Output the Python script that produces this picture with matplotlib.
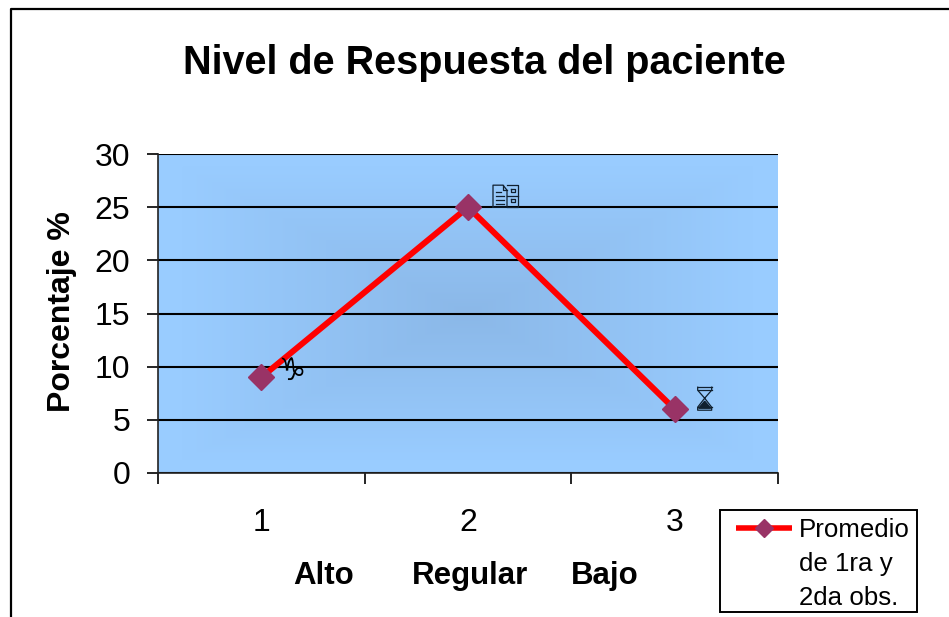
import numpy as np
import matplotlib
matplotlib.use('Agg')
import matplotlib.pyplot as plt
from matplotlib.lines import Line2D
from matplotlib.patches import Rectangle, Polygon

plt.rcParams['font.family'] = ['Liberation Sans', 'DejaVu Sans']

W, H = 949, 617

# data
x_pos = [1, 2, 3]
promedio = [9, 25, 6]
y_ticks = [0, 5, 10, 15, 20, 25, 30]
series_label = ['Promedio', 'de 1ra y', '2da obs.']
categories = ['Alto', 'Regular', 'Bajo']
category_px = [324, 470, 605]


def fx(px):
    return px / W


def fy(py):
    return 1 - py / H


# small line symbol in pixels, placed relative to a data point
def draw_icon(point, segments):
    px0, py0 = ax.transData.transform(point)
    for seg in segments:
        xs = [(px0 + p[0]) / W for p in seg]
        ys = [(py0 + p[1]) / H for p in seg]
        fig.add_artist(Line2D(xs, ys, color='#10202f', lw=0.9, zorder=5))


fig = plt.figure(figsize=(W / 100, H / 100), dpi=100, facecolor='white')

# outer chart frame, only left and top show
fig.add_artist(Line2D([fx(10.5), fx(10.5), 1], [0, fy(8.5), fy(8.5)], color='black', lw=1.6))

ax = fig.add_axes([fx(158), fy(473), fx(778 - 158), (473 - 154) / H])

# rectangular gradient background, darker in the middle
u = np.linspace(-1, 1, 620)
v = np.linspace(-1, 1, 319)
uu, vv = np.meshgrid(u, v)
t = np.clip(1 - np.maximum(np.abs(uu), np.abs(vv)) / 0.92, 0, 1)
edge = np.array([0x99, 0xCC, 0xFF]) / 255
mid = np.array([0x8B, 0xB8, 0xE8]) / 255
img = edge + (mid - edge) * t[..., None]
ax.imshow(img, extent=[0.5, 3.5, 0, 30], aspect='auto', zorder=0, interpolation='bilinear')

ax.set_xlim(0.5, 3.5)
ax.set_ylim(0, 30)
ax.set_yticks(y_ticks)
ax.set_xticks([0.5, 1.5, 2.5, 3.5])
ax.set_xticklabels([])
ax.tick_params(axis='y', length=8, width=1.2, labelsize=23, pad=12)
ax.tick_params(axis='x', length=8, width=1.2)
ax.yaxis.grid(True, color='black', lw=1.5, zorder=1)
ax.set_axisbelow(True)
for side in ['top', 'right']:
    ax.spines[side].set_visible(False)
ax.spines['left'].set_color('#222222')
ax.spines['bottom'].set_color('#222222')
ax.spines['left'].set_linewidth(1.2)
ax.spines['bottom'].set_linewidth(1.2)

line, = ax.plot(x_pos, promedio, color='#FF0000', lw=4.3, marker='D', ms=13,
                mfc='#993366', mec='#993366', zorder=3, solid_capstyle='butt')

# capricorn sign next to the first point
ax.annotate('♑', (x_pos[0], promedio[0]), xytext=(31, 6), textcoords='offset pixels',
            ha='center', va='center', fontsize=22, family=['DejaVu Sans'], color='black', zorder=4)

# the document/cabinet and hourglass symbols exist in no installed font, so they are drawn
draw_icon((x_pos[1], promedio[1]), [
    [(25, 0), (25, 22), (35, 22), (39, 17), (39, 0), (25, 0)],
    [(35, 22), (35, 17), (39, 17)],
    [(39, 22), (50, 22), (50, 0), (39, 0)],
    [(39, 11), (50, 11)],
    [(28, 15), (33, 15)], [(28, 11), (36, 11)], [(28, 7), (36, 7)], [(28, 3), (36, 3)],
    [(43, 18), (47, 18), (47, 15), (43, 15), (43, 18)],
    [(43, 8), (47, 8), (47, 5), (43, 5), (43, 8)],
])
draw_icon((x_pos[2], promedio[2]), [
    [(23, 22), (37, 22)], [(23, 19), (37, 19)],
    [(23, 22), (23, 19), (30, 11), (23, 2), (23, -1), (37, -1), (37, 2), (30, 11), (37, 19), (37, 22)],
    [(23, 2), (37, 2)],
])
hx, hy = ax.transData.transform((x_pos[2], promedio[2]))
fig.add_artist(Polygon([[(hx + 24) / W, (hy + 1) / H], [(hx + 36) / W, (hy + 1) / H],
                        [(hx + 30) / W, (hy + 8) / H]], closed=True, color='#10202f', zorder=5))

# x tick numbers sit between the tick marks
for xv in x_pos:
    ax.annotate(str(xv), (xv, 0), xytext=(0, -50), textcoords='offset pixels', ha='center',
                va='center', fontsize=23)

fig.text(fx(484), fy(63), 'Nivel de Respuesta del paciente', ha='center', va='center',
         fontsize=28.5, fontweight='bold')
fig.text(fx(62), fy(312), 'Porcentaje %', ha='center', va='center', rotation=90,
         fontsize=23, fontweight='bold')
for name, px in zip(categories, category_px):
    fig.text(fx(px), fy(576), name, ha='center', va='center', fontsize=22.5, fontweight='bold')

fig.add_artist(Rectangle((fx(720), fy(612)), fx(197), 102 / H, transform=fig.transFigure,
                         facecolor='white', edgecolor='black', lw=1.4, zorder=3))
blank = Line2D([], [], color='none')
handles = [Line2D([], [], color='#FF0000', lw=4.0, marker='D', ms=9, mfc='#993366', mec='#993366',
                  solid_capstyle='butt'),
           blank, blank]
leg = fig.legend(handles, series_label, loc='upper left', bbox_to_anchor=(fx(736), fy(518)),
                 bbox_transform=fig.transFigure, fontsize=18.6, frameon=False, borderaxespad=0,
                 borderpad=0, labelspacing=0.38, handlelength=2.17, handletextpad=0.27)
leg.set_zorder(4)

fig.savefig('out.png', dpi=100)
